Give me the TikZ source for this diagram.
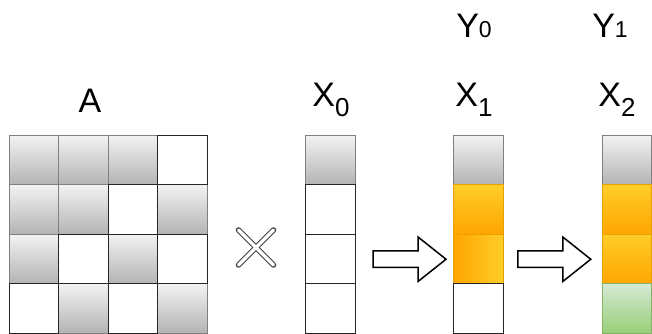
\documentclass[tikz,border=0pt]{standalone}
\usepackage{fontspec}
\setmainfont{Liberation Sans}
\usepackage{xcolor}
\usetikzlibrary{positioning,shapes.arrows}

\definecolor{grtop}{HTML}{F2F2F2}
\definecolor{grbot}{HTML}{B3B3B3}
\definecolor{ortop}{HTML}{FFCD28}
\definecolor{orbot}{HTML}{FFA500}
\definecolor{orline}{HTML}{E6A100}
\definecolor{gntop}{HTML}{D5E8D4}
\definecolor{gnbot}{HTML}{97D077}
\definecolor{gnline}{HTML}{82B366}

\newcommand{\sbx}[1]{\raisebox{-10pt}{\fontsize{26}{30}\selectfont #1}}
\newcommand{\smd}[1]{{\fontsize{23}{28}\selectfont #1}}

\tikzset{
  cell/.style={minimum size=49.5pt, inner sep=0pt, outer sep=0pt, line width=1pt},
  graycell/.style={cell, draw=black!50, top color=grtop, bottom color=grbot},
  whitecell/.style={cell, draw=black!85, fill=white},
  orangecell/.style={cell, draw=orline, top color=ortop, bottom color=orbot},
  orangecellh/.style={cell, draw=orline, left color=orbot, right color=ortop},
  greencell/.style={cell, draw=gnline, top color=gntop, bottom color=gnbot},
  bigarrow/.style={single arrow, draw, line width=1.5pt, fill=white,
    inner xsep=0pt, inner ysep=7.5pt, minimum height=73pt,
    single arrow head extend=14pt, single arrow tip angle=77},
  lab/.style={anchor=base, font=\fontsize{34}{40}\selectfont},
}

\begin{document}
\begin{tikzpicture}[x=1pt,y=1pt]
			\useasboundingbox (0,0) rectangle (652,334);
			% матрица A
			\foreach \c/\r in {1/1,2/1,3/1,1/2,2/2,4/2,1/3,3/3,2/4,4/4}
				\node [graycell] (a\r\c) at ({9+49.5*\c-24.75},{198.5-49.5*\r+24.75}) {};
			\foreach \c/\r in {4/1,3/2,2/3,4/3,1/4,3/4}
				\node [whitecell] (a\r\c) at ({9+49.5*\c-24.75},{198.5-49.5*\r+24.75}) {};
			% знак умножения
			\coordinate (times) at (256,86.5);
			\draw [black!75, line width=5.5pt, line cap=round]
				(238.5,69) -- (273.5,104) (238.5,104) -- (273.5,69);
			\draw [white, line width=3.5pt, line cap=round]
				(238.5,69) -- (273.5,104) (238.5,104) -- (273.5,69);
			% векторы
			\node [graycell] (x01) at (330.5,173.75) {};
			\node [whitecell, below=0pt of x01] (x02) {};
			\node [whitecell, below=0pt of x02] (x03) {};
			\node [whitecell, below=0pt of x03] (x04) {};
			\node [graycell] (x11) at (478.25,173.75) {};
			\node [orangecell, below=0pt of x11] (x12) {};
			\node [orangecellh, below=0pt of x12] (x13) {};
			\node [whitecell, below=0pt of x13] (x14) {};
			\node [graycell] (x21) at (627,173.75) {};
			\node [orangecell, below=0pt of x21] (x22) {};
			\node [orangecell, below=0pt of x22] (x23) {};
			\node [greencell, below=0pt of x23] (x24) {};
			% стрелки
			\node [bigarrow, right=17pt of x03] (arr1) {};
			\node [bigarrow, right=14pt of x13] (arr2) {};
			% подписи
			\node [lab] (labA) at (90,221) {A};
			\node [lab] (labX0) at (331,227) {X\sbx{0}};
			\node [lab] (labX1) at (474,227) {X\sbx{1}};
			\node [lab] (labX2) at (617,227) {X\sbx{2}};
			\node [lab] (labY0) at (474,296) {Y\smd{0}};
			\node [lab] (labY1) at (610,296) {Y\smd{1}};
\end{tikzpicture}
\end{document}
